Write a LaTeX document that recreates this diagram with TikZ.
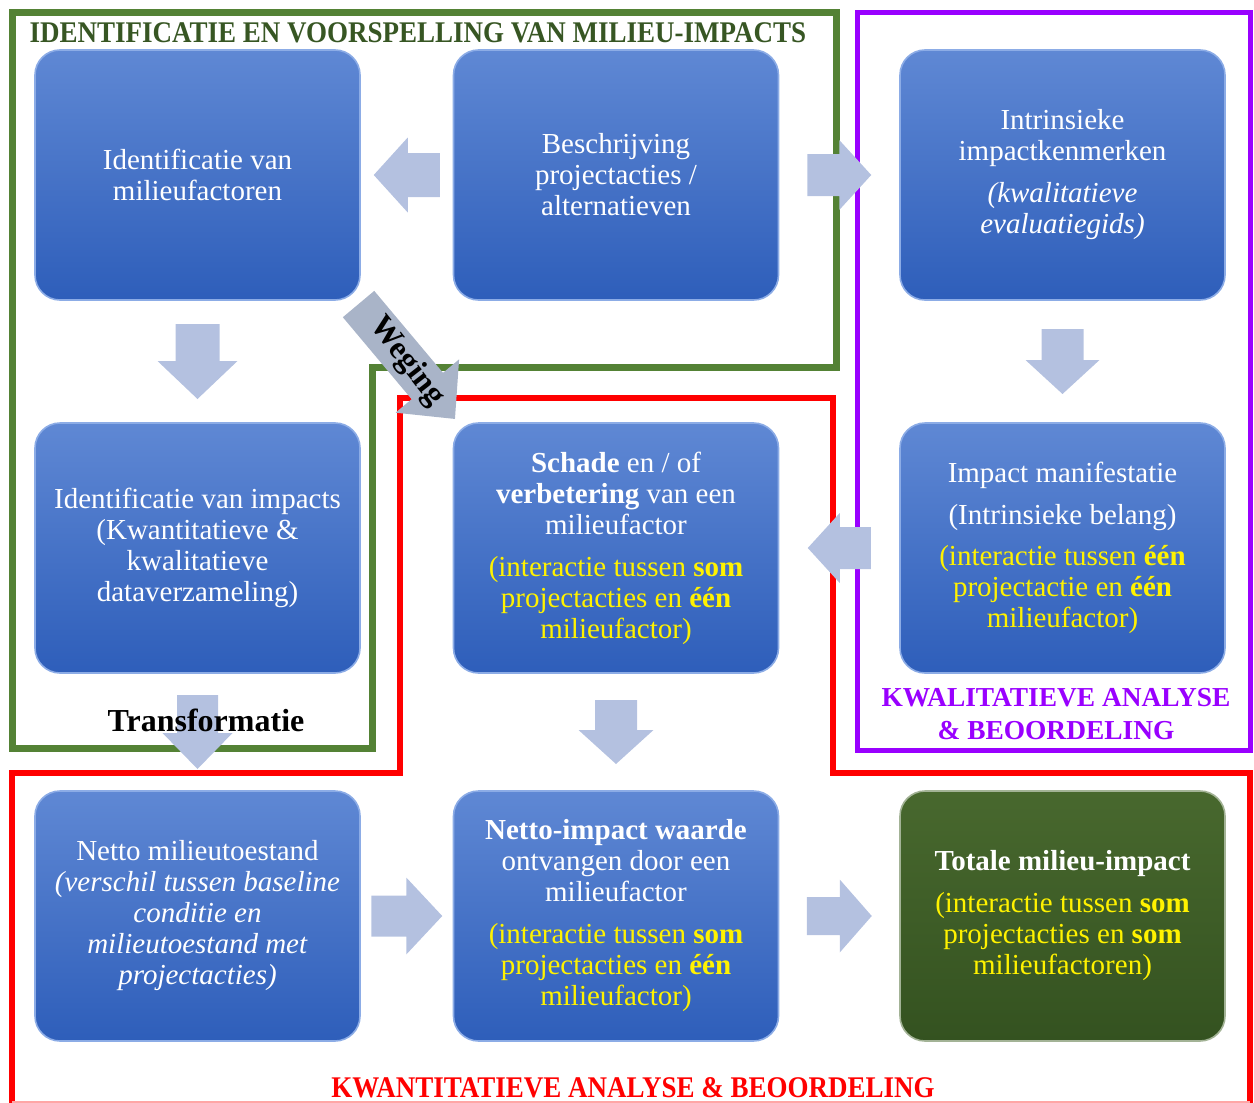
\documentclass[tikz,border=0pt]{standalone}
\usepackage{fontspec}
\setmainfont{Liberation Serif}
\usetikzlibrary{calc}

\definecolor{boxtop}{RGB}{95,136,212}
\definecolor{boxbot}{RGB}{46,94,186}
\definecolor{boxrand}{RGB}{140,172,230}
\definecolor{groentop}{RGB}{72,104,46}
\definecolor{groenbot}{RGB}{52,82,32}
\definecolor{kadergroen}{RGB}{84,130,53}
\definecolor{titelgroen}{RGB}{55,86,35}
\definecolor{paars}{RGB}{153,0,255}
\definecolor{pijlblauw}{RGB}{180,193,224}
\definecolor{pijlgrijs}{RGB}{169,180,200}

\newcommand{\geel}[1]{\textcolor{yellow}{#1}}

\tikzset{
  stap/.style={rounded corners=12.5pt, minimum width=162.5pt, minimum height=125pt,
    top color=boxtop, bottom color=boxbot, draw=boxrand, line width=0.8pt,
    text=white, align=center, font=\fontsize{14.5}{15.5}\selectfont},
  totaal/.style={stap, top color=groentop, bottom color=groenbot, draw=groentop!50!white},
  pijl/.style={fill=pijlblauw},
  etiket/.style={font=\bfseries\fontsize{15}{17}\selectfont, xscale=0.9},
  pics/blokpijl/.style n args={4}{code={
    \path[pic actions] ({-#1/2},{-#3/2}) -- ({#1/2-#4},{-#3/2}) -- ({#1/2-#4},{-#2/2})
      -- ({#1/2},0) -- ({#1/2-#4},{#2/2}) -- ({#1/2-#4},{#3/2}) -- ({-#1/2},{#3/2}) -- cycle;}}
}

\begin{document}
\begin{tikzpicture}[x=0.5pt,y=-0.5pt]
\useasboundingbox (0,0) rectangle (1254,1103);

% kaders
\draw[kadergroen, line width=3.5pt] (12,12) -- (836,12) -- (836,367) -- (372,367) -- (372,748) -- (12,748) -- cycle;
\draw[paars, line width=2.5pt] (857,12) rectangle (1250,750);
\draw[red, line width=3pt] (12,1103) -- (12,773) -- (400,773) -- (400,398) -- (833,398) -- (833,773) -- (1250,773) -- (1250,1103);
\draw[red!35, line width=0.8pt] (12,1102) -- (1250,1102);

% stappen
\node[stap] (idfac)   at (197.5,175) {Identificatie van\\milieufactoren};
\node[stap] (beschr)  at (616,175)   {Beschrijving\\projectacties /\\alternatieven};
\node[stap] (intr)    at (1062.5,175) {Intrinsieke\\impactkenmerken\\[5.5pt]\textit{(kwalitatieve}\\\textit{evaluatiegids)}};
\node[stap] (idimp)   at (197.5,548) {Identificatie van impacts\\(Kwantitatieve \&\\kwalitatieve\\dataverzameling)};
\node[stap] (schade)  at (616,548)   {\textbf{Schade} en / of\\\textbf{verbetering} van een\\milieufactor\\[5.5pt]\geel{(interactie tussen \textbf{som}}\\\geel{projectacties en \textbf{één}}\\\geel{milieufactor)}};
\node[stap] (manif)   at (1062.5,548) {Impact manifestatie\\[5.5pt](Intrinsieke belang)\\[5pt]\geel{(interactie tussen \textbf{één}}\\\geel{projectactie en \textbf{één}}\\\geel{milieufactor)}};
\node[stap] (netto)   at (197.5,916) {Netto milieutoestand\\\textit{(verschil tussen baseline}\\\textit{conditie en}\\\textit{milieutoestand met}\\\textit{projectacties)}};
\node[stap] (waarde)  at (616,916)   {\textbf{Netto-impact waarde}\\ontvangen door een\\milieufactor\\[5.5pt]\geel{(interactie tussen \textbf{som}}\\\geel{projectacties en \textbf{één}}\\\geel{milieufactor)}};
\node[totaal] (totaal) at (1062.5,916) {\textbf{Totale milieu-impact}\\[5.5pt]\geel{(interactie tussen \textbf{som}}\\\geel{projectacties en \textbf{som}}\\\geel{milieufactoren)}};

% blokpijlen
\pic[pijl, rotate=180] at ($(idfac.east)!.5!(beschr.west)$) {blokpijl={66}{75}{44}{34}};
\pic[pijl] at ($(beschr.east)!.5!(intr.west)$) {blokpijl={64}{70}{42}{32}};
\pic[pijl, rotate=-90] at ($(idfac.south)!.5!(idimp.north)$) {blokpijl={75}{80}{44}{38}};
\pic[pijl, rotate=-90] at ($(intr.south)!.5!(manif.north)$) {blokpijl={65}{74}{42}{34}};
\pic[pijl, rotate=180] at ($(schade.east)!.5!(manif.west)$) {blokpijl={63}{70}{42}{32}};
\pic[pijl, rotate=-90] at ($(schade.south)!.5!(waarde.north)$) {blokpijl={64}{75}{42}{34}};
\pic[pijl, rotate=-90] at ($(idimp.south)!.5!(netto.north)$) {blokpijl={74}{70}{41}{36}};
\pic[pijl] at ($(netto.east)!.5!(waarde.west)$) {blokpijl={71}{77}{41}{36}};
\pic[pijl] at ($(waarde.east)!.5!(totaal.west)$) {blokpijl={65}{73}{38}{32}};
\pic[fill=pijlgrijs, rotate=-50] at ($(idfac.south east)!.5!(schade.north west)$) {blokpijl={150}{83}{41}{43}};

% opschriften
\node[etiket, text=titelgroen] (titel) at (418,33) {IDENTIFICATIE EN VOORSPELLING VAN MILIEU-IMPACTS};
\node[etiket, text=red] (kwant) at (633,1088) {KWANTITATIEVE ANALYSE \& BEOORDELING};
\node[font=\bfseries\fontsize{13.7}{16.5}\selectfont, text=paars, align=center] (kwal) at (1056,714) {KWALITATIEVE ANALYSE\\\& BEOORDELING};
\node[font=\bfseries\fontsize{16}{18}\selectfont] (transf) at (206,720) {Transformatie};
\node[font=\bfseries\fontsize{16}{18}\selectfont, rotate=-52] (weging) at ($(idfac.south east)!.5!(schade.north west)$) {Weging};
\end{tikzpicture}
\end{document}
